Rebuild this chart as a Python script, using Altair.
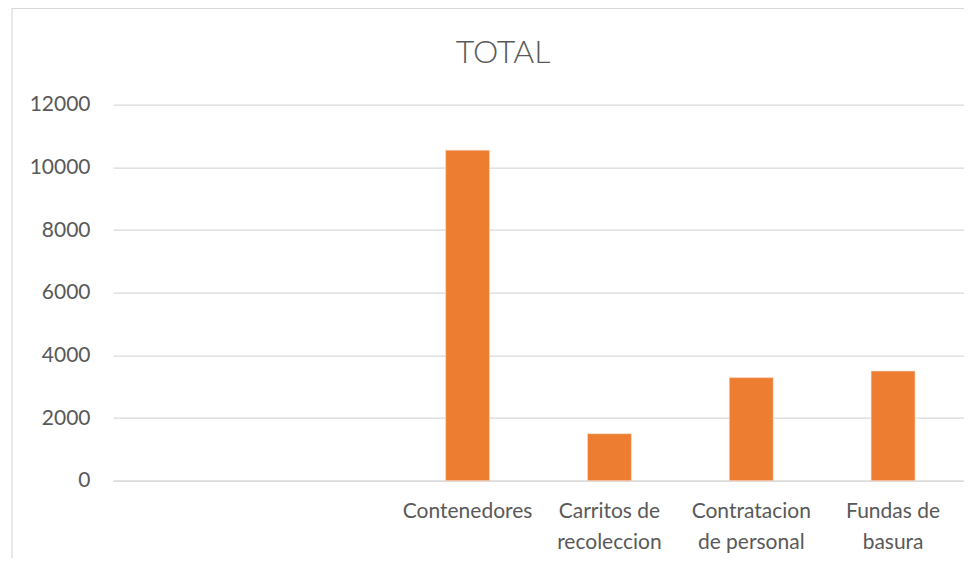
import altair as alt
import pandas as pd

categories = [" ", "  ", "Contenedores", "Carritos de\nrecoleccion", "Contratacion\nde personal", "Fundas de\nbasura"]
values = [None, None, 10550, 1500, 3290, 3500]
y_ticks = [0, 2000, 4000, 6000, 8000, 10000, 12000]
title_text = "TOTAL"

df = pd.DataFrame({"cat": categories, "val": values})

FONT = "Lato"
GREY = "#595959"

bars = alt.Chart(df).mark_bar(color="#ED7D31", stroke="#fbe3d3", strokeWidth=0.6).encode(
    x=alt.X("cat:N", sort=categories,
            scale=alt.Scale(domain=categories, paddingInner=0.69, paddingOuter=0.345),
            axis=alt.Axis(title=None, labelAngle=0, ticks=False, tickSize=0,
                          labelExpr="split(datum.label, '\\n')",
                          labelFont=FONT, labelFontSize=21, labelColor=GREY,
                          labelLineHeight=31, labelPadding=20, labelLimit=300,
                          domain=True, domainColor="#d9d9d9", domainWidth=1.3,
                          grid=False)),
    y=alt.Y("val:Q",
            scale=alt.Scale(domain=[0, 12000], nice=False),
            axis=alt.Axis(title=None, values=y_ticks, format="d", ticks=False, tickSize=0,
                          domain=False, grid=True, gridColor="#d9d9d9", gridWidth=1.3,
                          labelFont=FONT, labelFontSize=21, labelColor=GREY,
                          labelPadding=23)),
)

border = alt.Chart(alt.Data(values=[{}])).mark_rect(
    fill="transparent", stroke="#d9d9d9", strokeWidth=1.2
).encode(
    x=alt.value(-101), x2=alt.value(950), y=alt.value(-96.2), y2=alt.value(600)
)

title = alt.Chart(alt.Data(values=[{"t": title_text}])).mark_text(
    font=FONT, fontSize=32, fontWeight=300, color=GREY, align="center", baseline="alphabetic"
).encode(
    text="t:N", x=alt.value(390), y=alt.value(-42)
)

chart = alt.layer(border, title, bars).properties(
    width=851,
    height=376,
    padding={"left": 105, "top": 96.7, "right": 0, "bottom": 77},
    autosize=alt.AutoSizeParams(type="none"),
).configure_view(strokeWidth=0)

chart.save("out.html", embed_options={"renderer": "svg", "actions": False})
